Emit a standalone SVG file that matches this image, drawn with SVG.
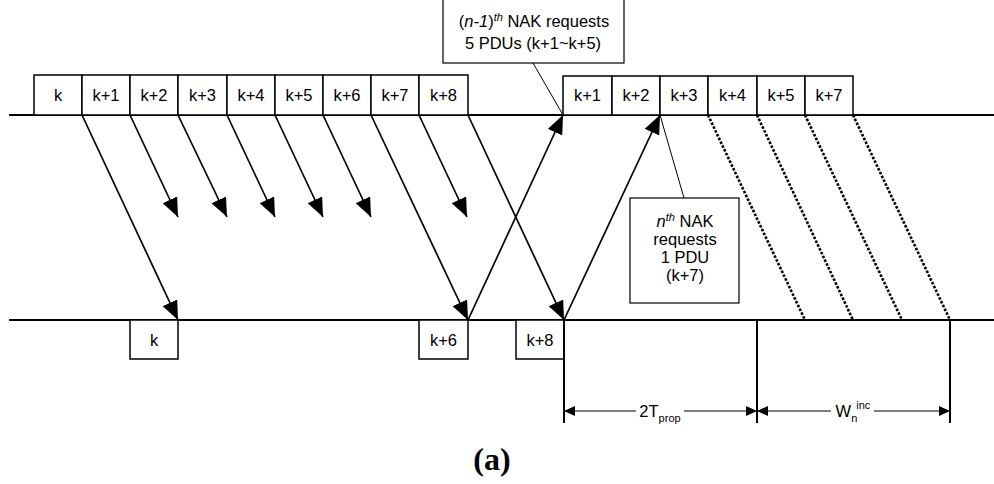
<svg xmlns="http://www.w3.org/2000/svg" width="994" height="484" viewBox="0 0 994 484">
<style>
.box{fill:#fff;stroke:#000;stroke-width:1.5}
.lbl{font-family:"Liberation Sans",Arial,sans-serif;font-size:16.5px;fill:#000;text-anchor:middle}
.axis{stroke:#000;stroke-width:2;fill:none}
.arr{stroke:#000;stroke-width:1.7;fill:none;marker-end:url(#ah)}
.dot{stroke:#000;stroke-width:2.6;fill:none;stroke-dasharray:2.6 1.6}
.thin{stroke:#000;stroke-width:1;fill:none}
.vert{stroke:#000;stroke-width:2;fill:none}
.dim{stroke:#000;stroke-width:1;fill:none}
.it{font-style:italic}
</style>
<defs>
<marker id="ah" markerUnits="userSpaceOnUse" markerWidth="22" markerHeight="18" refX="19" refY="8" orient="auto">
<path d="M0,0 L19,8 L0,16 z" fill="#000"/>
</marker>
<marker id="dh" markerUnits="userSpaceOnUse" markerWidth="12" markerHeight="12" refX="11" refY="5" orient="auto">
<path d="M0,0 L11,5 L0,10 z" fill="#000"/>
</marker>
<marker id="dt" markerUnits="userSpaceOnUse" markerWidth="12" markerHeight="12" refX="0" refY="5" orient="auto">
<path d="M11,0 L0,5 L11,10 z" fill="#000"/>
</marker>
</defs>
<rect width="994" height="484" fill="#fff"/>

<g id="axes">
<line class="axis" x1="9" y1="115" x2="994" y2="115"/>
<line class="axis" x1="9" y1="320" x2="994" y2="320"/>
</g>

<g id="top-boxes">
<g id="t-k"><rect class="box" x="34" y="75" width="48" height="40"/><text class="lbl" x="58" y="101">k</text></g>
<g id="t-k1"><rect class="box" x="82" y="75" width="48" height="40"/><text class="lbl" x="106" y="101">k+1</text></g>
<g id="t-k2"><rect class="box" x="130" y="75" width="48" height="40"/><text class="lbl" x="154" y="101">k+2</text></g>
<g id="t-k3"><rect class="box" x="178" y="75" width="49" height="40"/><text class="lbl" x="202.5" y="101">k+3</text></g>
<g id="t-k4"><rect class="box" x="227" y="75" width="48" height="40"/><text class="lbl" x="251" y="101">k+4</text></g>
<g id="t-k5"><rect class="box" x="275" y="75" width="48" height="40"/><text class="lbl" x="299" y="101">k+5</text></g>
<g id="t-k6"><rect class="box" x="323" y="75" width="48" height="40"/><text class="lbl" x="347" y="101">k+6</text></g>
<g id="t-k7"><rect class="box" x="371" y="75" width="48" height="40"/><text class="lbl" x="395" y="101">k+7</text></g>
<g id="t-k8"><rect class="box" x="419" y="75" width="49" height="40"/><text class="lbl" x="443.5" y="101">k+8</text></g>
</g>

<g id="retx-boxes">
<g id="r-k1"><rect class="box" x="563" y="76" width="49" height="39"/><text class="lbl" x="587.5" y="101">k+1</text></g>
<g id="r-k2"><rect class="box" x="612" y="76" width="48" height="39"/><text class="lbl" x="636" y="101">k+2</text></g>
<g id="r-k3"><rect class="box" x="660" y="76" width="48" height="39"/><text class="lbl" x="684" y="101">k+3</text></g>
<g id="r-k4"><rect class="box" x="708" y="76" width="49" height="39"/><text class="lbl" x="732.5" y="101">k+4</text></g>
<g id="r-k5"><rect class="box" x="757" y="76" width="48" height="39"/><text class="lbl" x="781" y="101">k+5</text></g>
<g id="r-k7"><rect class="box" x="805" y="76" width="48" height="39"/><text class="lbl" x="829" y="101">k+7</text></g>
</g>

<g id="bottom-boxes">
<g id="b-k"><rect class="box" x="130" y="320" width="48" height="39"/><text class="lbl" x="154" y="345.5">k</text></g>
<g id="b-k6"><rect class="box" x="419" y="320" width="49" height="39"/><text class="lbl" x="443.5" y="345.5">k+6</text></g>
<g id="b-k8"><rect class="box" x="516" y="320" width="48" height="39"/><text class="lbl" x="540" y="345.5">k+8</text></g>
</g>

<g id="connectors">
<line class="arr" x1="82" y1="115" x2="178" y2="320"/>
<line class="arr" x1="130" y1="115" x2="178" y2="217"/>
<line class="arr" x1="178" y1="115" x2="227" y2="217"/>
<line class="arr" x1="227" y1="115" x2="275" y2="217"/>
<line class="arr" x1="275" y1="115" x2="323" y2="217"/>
<line class="arr" x1="323" y1="115" x2="371" y2="217"/>
<line class="arr" x1="371" y1="115" x2="468" y2="320"/>
<line class="arr" x1="419" y1="115" x2="467" y2="217"/>
<line class="arr" x1="468" y1="115" x2="564" y2="320"/>
<line class="arr" x1="468" y1="320" x2="563" y2="115"/>
<line class="arr" x1="564" y1="320" x2="660" y2="115"/>
<line class="dot" x1="708" y1="115" x2="805" y2="320"/>
<line class="dot" x1="757" y1="115" x2="853" y2="320"/>
<line class="dot" x1="805" y1="115" x2="902" y2="320"/>
<line class="dot" x1="853" y1="115" x2="950" y2="320"/>
<line class="thin" x1="533" y1="63" x2="563" y2="115"/>
<line class="thin" x1="660" y1="115" x2="684" y2="198"/>
<line class="vert" x1="564" y1="320" x2="564" y2="423"/>
<line class="vert" x1="757" y1="320" x2="757" y2="423"/>
<line class="vert" x1="950" y1="320" x2="950" y2="423"/>
<line class="dim" x1="564" y1="411" x2="636" y2="411" marker-start="url(#dt)"/>
<line class="dim" x1="684" y1="411" x2="757" y2="411" marker-end="url(#dh)"/>
<line class="dim" x1="757" y1="411" x2="831" y2="411" marker-start="url(#dt)"/>
<line class="dim" x1="874" y1="411" x2="950" y2="411" marker-end="url(#dh)"/>
</g>

<g id="callout-1">
<rect class="box" x="443" y="-1" width="181" height="64" style="stroke-width:1.2"/>
<text class="lbl" x="534" y="27">(<tspan class="it">n-1</tspan>)<tspan class="it" font-size="11" dy="-6">th</tspan><tspan dy="6"> NAK requests</tspan></text>
<text class="lbl" x="533" y="48.5">5 PDUs (k+1~k+5)</text>
</g>

<g id="callout-2">
<rect class="box" x="630" y="198" width="109" height="105" style="stroke-width:1.2"/>
<text class="lbl" x="685" y="227"><tspan class="it">n</tspan><tspan class="it" font-size="11" dy="-6">th</tspan><tspan dy="6"> NAK</tspan></text>
<text class="lbl" x="685" y="245">requests</text>
<text class="lbl" x="685" y="263">1 PDU</text>
<text class="lbl" x="685" y="281">(k+7)</text>
</g>

<g id="dim-labels">
<text class="lbl" x="660" y="417" font-size="17">2T<tspan font-size="11" dy="5">prop</tspan></text>
<text class="lbl" x="853" y="417" font-size="17">W<tspan font-size="11" dy="5">n</tspan><tspan font-size="11" dx="-1" dy="-13">inc</tspan></text>
</g>

<text x="492" y="470" font-family="'Liberation Serif','Times New Roman',serif" font-weight="bold" font-size="32" text-anchor="middle">(a)</text>
</svg>
